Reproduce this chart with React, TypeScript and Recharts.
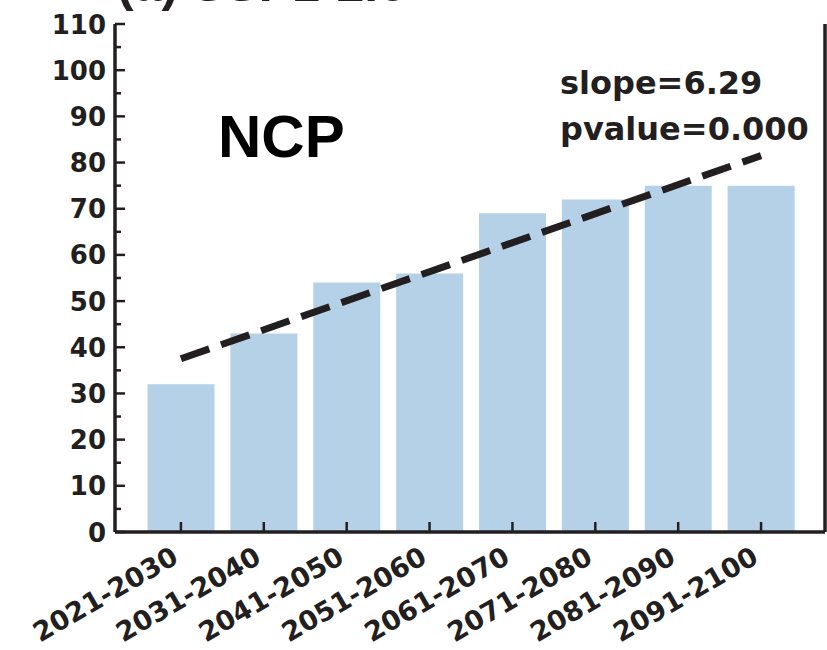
import React from 'react';
import { ComposedChart, Bar, Line, XAxis, YAxis } from 'recharts';

const INK = '#231f20';
const BAR_FILL = '#b5d1e7';
const FONT = '"DejaVu Sans", sans-serif';

// decade bins and the count per bin
const periods = [
  '2021-2030',
  '2031-2040',
  '2041-2050',
  '2051-2060',
  '2061-2070',
  '2071-2080',
  '2081-2090',
  '2091-2100',
];
const counts = [32, 43, 54, 56, 69, 72, 75, 75];

// fitted trend line, ends only (slope=6.29)
const trendStart = 37.5;
const trendEnd = 81.5;

const yMajorTicks = [0, 10, 20, 30, 40, 50, 60, 70, 80, 90, 100, 110];
const yMinorTicks = [5, 15, 25, 35, 45, 55, 65, 75, 85, 95, 105];

const rows = periods.map((period, i) => ({
  period,
  value: counts[i],
  trend: i === 0 ? trendStart : i === periods.length - 1 ? trendEnd : null,
}));

const yAllTicks = [...yMajorTicks, ...yMinorTicks].sort((a, b) => a - b);

const LeftTick = (props: any) => {
  const { x, y, payload } = props;
  const major = yMajorTicks.includes(payload.value);
  return (
    <g>
      <line x1={x} x2={x + (major ? 10 : 6)} y1={y} y2={y} stroke={INK} strokeWidth={2.5} />
      {major && (
        <text
          x={x - 9}
          y={y}
          dy={9.5}
          textAnchor="end"
          fill={INK}
          fontFamily={FONT}
          fontWeight="bold"
          fontSize={26}
        >
          {payload.value}
        </text>
      )}
    </g>
  );
};

const RightTick = (props: any) => {
  const { x, y } = props;
  return <line x1={x - 10} x2={x} y1={y} y2={y} stroke={INK} strokeWidth={2.5} />;
};

const BottomTick = (props: any) => {
  const { x, y, payload } = props;
  const ax = x - 1;
  const ay = y + 30;
  return (
    <g>
      <line x1={x} x2={x} y1={y - 10} y2={y} stroke={INK} strokeWidth={2.5} />
      <text
        x={ax}
        y={ay}
        transform={`rotate(-30 ${ax} ${ay})`}
        textAnchor="end"
        fill={INK}
        fontFamily={FONT}
        fontWeight="bold"
        fontSize={27}
      >
        {payload.value}
      </text>
    </g>
  );
};

export default function App() {
  const xPadding = { left: 24.5, right: 22.5 };
  return (
    <div style={{ position: 'absolute', left: 0, top: 0, width: 827, height: 650, background: '#fff' }}>
      <ComposedChart
        width={827}
        height={650}
        data={rows}
        margin={{ top: 24, right: 0, bottom: 0, left: 0 }}
      >
        <XAxis
          dataKey="period"
          height={118}
          padding={xPadding}
          interval={0}
          tickLine={false}
          tickSize={0}
          tickMargin={0}
          axisLine={{ stroke: INK, strokeWidth: 3.5 }}
          tick={<BottomTick />}
        />
        <XAxis
          xAxisId="top"
          orientation="top"
          dataKey="period"
          height={0}
          padding={xPadding}
          tick={false}
          tickLine={false}
          axisLine={{ stroke: INK, strokeWidth: 3.5 }}
        />
        <YAxis
          type="number"
          width={115}
          domain={[0, 110]}
          ticks={yAllTicks}
          interval={0}
          tickLine={false}
          tickSize={0}
          tickMargin={0}
          axisLine={{ stroke: INK, strokeWidth: 3.5 }}
          tick={<LeftTick />}
        />
        <YAxis
          yAxisId="right"
          orientation="right"
          type="number"
          width={2}
          domain={[0, 110]}
          ticks={yMajorTicks}
          interval={0}
          tickLine={false}
          tickSize={0}
          tickMargin={0}
          axisLine={{ stroke: INK, strokeWidth: 3.5 }}
          tick={<RightTick />}
        />
        <Bar dataKey="value" fill={BAR_FILL} barSize={67} isAnimationActive={false} />
        <Line
          dataKey="trend"
          connectNulls
          dot={false}
          activeDot={false}
          stroke={INK}
          strokeWidth={7}
          strokeDasharray="30 12.5"
          strokeLinecap="butt"
          isAnimationActive={false}
        />
      </ComposedChart>
      <svg
        width={827}
        height={650}
        style={{ position: 'absolute', left: 0, top: 0, pointerEvents: 'none' }}
      >
        {/* panel title, cut off by the top edge as in the source figure */}
        <text
          x={117}
          y={1}
          fill={INK}
          fontFamily='"Liberation Sans", Arial, sans-serif'
          fontWeight="bold"
          fontSize={50}
        >
          (a) SSP1-2.6
        </text>
        <text
          x={218}
          y={157}
          fill="#000"
          fontFamily='"Liberation Sans", Arial, sans-serif'
          fontWeight="bold"
          fontSize={60}
        >
          NCP
        </text>
        <text x={560} y={94} fill={INK} fontFamily={FONT} fontWeight="bold" fontSize={32}>
          slope=6.29
        </text>
        <text x={560} y={140} fill={INK} fontFamily={FONT} fontWeight="bold" fontSize={32}>
          pvalue=0.000
        </text>
      </svg>
    </div>
  );
}
